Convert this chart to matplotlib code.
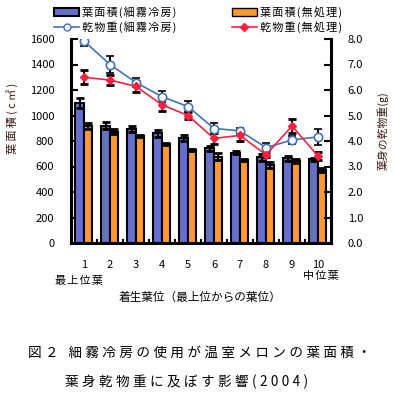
import matplotlib
matplotlib.use("Agg")
import matplotlib.pyplot as plt
import numpy as np
from matplotlib.lines import Line2D
from matplotlib.patches import Patch

plt.rcParams['font.family'] = ['Noto Sans CJK JP', 'DejaVu Sans']

positions = ["1", "2", "3", "4", "5", "6", "7", "8", "9", "10"]
area_mist = [1096, 920, 896, 860, 821, 743, 708, 672, 664, 656]
area_mist_err = [39, 26, 24, 26, 24, 18, 10, 26, 18, 13]
area_ctrl = [918, 873, 839, 776, 729, 677, 651, 612, 643, 572]
area_ctrl_err = [26, 21, 8, 5, 10, 26, 10, 26, 13, 18]
dry_mist = [7.92, 7.0, 6.29, 5.74, 5.35, 4.49, 4.4, 3.74, 4.04, 4.16]
dry_mist_err = [0.18, 0.34, 0.18, 0.22, 0.2, 0.23, 0.11, 0.18, 0.16, 0.32]
dry_ctrl = [6.5, 6.39, 6.14, 5.42, 5.0, 4.1, 4.22, 3.46, 4.59, 3.41]
dry_ctrl_err = [0.28, 0.2, 0.23, 0.25, 0.15, 0.2, 0.23, 0.1, 0.29, 0.16]


def spaced(s, sp):
    return sp.join(s)


W, H = 394, 409
fig = plt.figure(figsize=(W / 100, H / 100), dpi=100)
ax = fig.add_axes([71 / W, 1 - 243 / H, 260 / W, 204 / H])
x = np.arange(1, len(positions) + 1)

blue = '#6670C8'
orange = '#FF9A33'
ax.bar(x - 0.17, area_mist, width=0.34, color=blue, edgecolor='black', linewidth=1.5, zorder=2)
ax.bar(x + 0.15, area_ctrl, width=0.30, color=orange, edgecolor='black', linewidth=1.5, zorder=2)
ax.errorbar(x - 0.17, area_mist, yerr=area_mist_err, fmt='none', ecolor='black',
            elinewidth=1.5, capsize=3, capthick=2, zorder=3)
ax.errorbar(x + 0.15, area_ctrl, yerr=area_ctrl_err, fmt='none', ecolor='black',
            elinewidth=1.5, capsize=3, capthick=2, zorder=3)

tsp = '\u2009'
hsp = '\u200a'

ax.set_xlim(0.5, 10.5)
ax.set_ylim(0, 1600)
ax.set_yticks(np.arange(0, 1601, 200))
ax.set_xticks(x)
ax.set_xticklabels(positions, fontsize=8)
ax.set_xticks(np.arange(1.5, 10.5, 1), minor=True)
ax.tick_params(axis='x', which='major', length=0, pad=12)
ax.tick_params(axis='x', which='minor', direction='in', length=3, width=1.5)
ax.tick_params(axis='y', direction='in', length=5, width=1.5, labelsize=8, pad=12)
for s in ['left', 'bottom', 'right']:
    ax.spines[s].set_linewidth(2.2)
ax.spines['top'].set_visible(False)
ax.set_ylabel(spaced('葉面積(c㎡)', tsp), fontsize=8, color='#3a1a10')
ax.yaxis.set_label_coords((18 - 71) / 260, 0.61)

ax2 = ax.twinx()
ax2.set_ylim(0, 8)
ax2.set_yticks(np.arange(0, 8.01, 1))
ax2.set_yticklabels([f'{v:.1f}' for v in np.arange(0, 8.01, 1)])
ax2.tick_params(axis='y', direction='in', length=5, width=1.5, labelsize=8, pad=12)
for s in ax2.spines.values():
    s.set_visible(False)
ax2.spines['right'].set_visible(True)
ax2.spines['right'].set_linewidth(2.2)
ax2.set_ylabel('葉身の乾物重(g)', fontsize=7.8, color='#3a1a10')
ax2.yaxis.set_label_coords((377 - 71) / 260, 0.55)

lblue = '#4472B0'
lred = '#FF2040'
ax2.errorbar(x, dry_mist, yerr=dry_mist_err, color=lblue, lw=1.2, marker='o', ms=6,
             mfc='white', mec=lblue, mew=1.2, ecolor='black', elinewidth=1.5,
             capsize=3, capthick=2, zorder=4)
ax2.errorbar(x, dry_ctrl, yerr=dry_ctrl_err, color=lred, lw=1.2, marker='D', ms=4.5,
             mfc=lred, mec=lred, ecolor='black', elinewidth=1.5,
             capsize=3, capthick=2, zorder=4)

# legend
h1 = Patch(facecolor=blue, edgecolor='black', linewidth=1.5)
h2 = Patch(facecolor=orange, edgecolor='black', linewidth=1.0)
h3 = Line2D([], [], color=lblue, lw=1.2, marker='o', ms=5, mfc='white', mec=lblue)
h4 = Line2D([], [], color=lred, lw=1.2, marker='D', ms=4, mfc=lred, mec=lred)
labels = ['葉面積(細霧冷房)', '乾物重(細霧冷房)', '葉面積(無処理)', '乾物重(無処理)']
fig.legend([h1, h3, h2, h4], [spaced(l, hsp) for l in labels],
           loc='upper left', bbox_to_anchor=(50 / W, 1 - 2 / H), ncol=2, frameon=False,
           fontsize=8, columnspacing=5.0, handlelength=2.2, handletextpad=0.3,
           labelspacing=0.3, borderaxespad=0)

fig.text(55 / W, 1 - 281 / H, spaced('最上位葉', hsp), fontsize=8, ha='left', va='center')
fig.text(303 / W, 1 - 276 / H, spaced('中位葉', hsp), fontsize=8, ha='left', va='center')
fig.text(200 / W, 1 - 297 / H, '着生葉位（最上位からの葉位）', fontsize=8.4,
         ha='center', va='center')

csp = '\u2005'
fig.text(28 / W, 1 - 353 / H, spaced('図２ 細霧冷房の使用が温室メロンの葉面積・', csp),
         fontsize=9.8, ha='left', va='center')
fig.text(65 / W, 1 - 382 / H, spaced('葉身乾物重に及ぼす影響(2004)', csp),
         fontsize=9.8, ha='left', va='center')

fig.savefig('out.png', dpi=100)
